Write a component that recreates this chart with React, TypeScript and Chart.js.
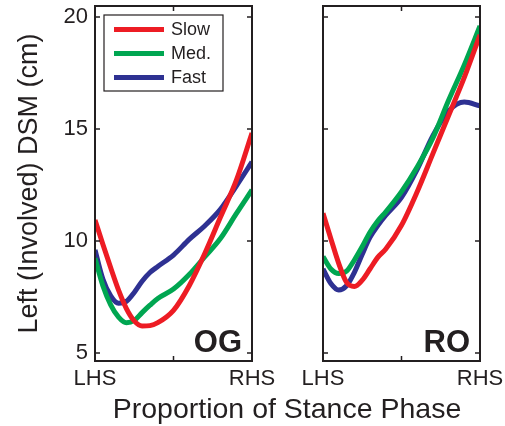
import React, { useEffect, useRef } from 'react';
import { Chart, registerables } from 'chart.js';

Chart.register(...registerables);

// ---- data ----
const phase = [0, 0.05, 0.1, 0.15, 0.2, 0.25, 0.3, 0.35, 0.4, 0.5, 0.6, 0.7, 0.8, 0.9, 1.0];

const ogSlow = [10.94, 9.85, 8.8, 7.8, 6.98, 6.43, 6.2, 6.22, 6.35, 6.9, 8.0, 9.45, 11.08, 12.7, 14.82];
const ogMed = [9.23, 8.0, 7.15, 6.6, 6.35, 6.45, 6.8, 7.13, 7.43, 7.85, 8.5, 9.3, 10.12, 11.22, 12.28];
const ogFast = [9.6, 8.3, 7.55, 7.22, 7.3, 7.7, 8.2, 8.59, 8.86, 9.37, 10.07, 10.68, 11.42, 12.45, 13.53];

const roSlow = [11.24, 10.1, 9.0, 8.15, 7.97, 8.25, 8.76, 9.28, 9.64, 10.7, 12.2, 13.9, 15.6, 17.3, 19.2];
const roMed = [9.3, 8.75, 8.55, 8.65, 9.15, 9.75, 10.4, 10.9, 11.3, 12.2, 13.3, 14.6, 16.28, 17.86, 19.6];
const roFast = [8.75, 8.1, 7.81, 8.0, 8.6, 9.41, 10.17, 10.7, 11.15, 11.95, 13.2, 14.7, 15.8, 16.2, 16.03];

const seriesLabels = ['Slow', 'Med.', 'Fast'];
const seriesColors = ['#ED1C24', '#00A651', '#2E3192'];
const panelLabels = ['OG', 'RO'];

const yTicks = [5, 10, 15, 20];
const yMin = 4.64;
const yMax = 20.49;
const xTickValues = [0, 0.5, 1];
const xTickLabels = ['LHS', '', 'RHS'];

const yTitle = 'Left (Involved) DSM (cm)';
const xTitle = 'Proportion of Stance Phase';

const FONT = "'Liberation Sans', Arial, Helvetica, sans-serif";
const TEXT = '#231F20';

function zeroPad(s: any) {
  s.paddingTop = 0;
  s.paddingBottom = 0;
  s.paddingLeft = 0;
  s.paddingRight = 0;
}

function makeFramePlugin(panelIndex: number) {
  return {
    id: 'frame' + panelIndex,
    afterDatasetsDraw(chart: any) {
      const { ctx, chartArea } = chart;
      const { left, right, top, bottom } = chartArea;
      const ys = chart.scales.y;
      const xs = chart.scales.x;
      ctx.save();
      // box
      ctx.strokeStyle = TEXT;
      ctx.lineWidth = 2;
      ctx.strokeRect(left, top, right - left, bottom - top);
      // inside ticks
      ctx.lineWidth = 1.5;
      ctx.beginPath();
      yTicks.forEach((v) => {
        const py = ys.getPixelForValue(v);
        ctx.moveTo(left, py);
        ctx.lineTo(left + 5, py);
        ctx.moveTo(right, py);
        ctx.lineTo(right - 5, py);
      });
      xTickValues.forEach((v) => {
        if (v === 0 || v === 1) return;
        const px = xs.getPixelForValue(v);
        ctx.moveTo(px, bottom);
        ctx.lineTo(px, bottom - 5);
        ctx.moveTo(px, top);
        ctx.lineTo(px, top + 5);
      });
      ctx.stroke();

      // panel label
      ctx.fillStyle = TEXT;
      ctx.font = `bold 31px ${FONT}`;
      ctx.textAlign = 'right';
      ctx.textBaseline = 'alphabetic';
      ctx.fillText(panelLabels[panelIndex], right - 10, bottom - 9);

      if (panelIndex === 0) {
        // legend
        const lx = left + 9;
        const ly = top + 9;
        ctx.fillStyle = '#FFFFFF';
        ctx.fillRect(lx, ly, 119, 76);
        ctx.strokeStyle = TEXT;
        ctx.lineWidth = 1.2;
        ctx.strokeRect(lx, ly, 119, 76);
        seriesLabels.forEach((lab, i) => {
          const yy = ly + 14.5 + i * 24;
          ctx.strokeStyle = seriesColors[i];
          ctx.lineWidth = 5;
          ctx.beginPath();
          ctx.moveTo(lx + 10, yy);
          ctx.lineTo(lx + 60, yy);
          ctx.stroke();
          ctx.fillStyle = TEXT;
          ctx.font = `18px ${FONT}`;
          ctx.textAlign = 'left';
          ctx.textBaseline = 'middle';
          ctx.fillText(lab, lx + 67, yy + 1);
        });
        // shared x title
        ctx.fillStyle = TEXT;
        ctx.font = `28.5px ${FONT}`;
        ctx.textAlign = 'center';
        ctx.textBaseline = 'alphabetic';
        ctx.fillText(xTitle, 287, 418);
      }
      ctx.restore();
    },
  };
}

function buildConfig(panelIndex: number, series: number[][]): any {
  const showY = panelIndex === 0;
  return {
    type: 'line',
    data: {
      datasets: series.map((vals, i) => ({
        label: seriesLabels[i],
        data: phase.map((p, k) => ({ x: p, y: vals[k] })),
        borderColor: seriesColors[i],
        backgroundColor: seriesColors[i],
        borderWidth: 5,
        pointRadius: 0,
        cubicInterpolationMode: 'monotone',
        fill: false,
      })),
    },
    options: {
      responsive: false,
      animation: false,
      devicePixelRatio: 1,
      layout: {
        padding: showY
          ? { left: 0, right: 253, top: 6, bottom: 0 }
          : { left: 323, right: 25, top: 6, bottom: 0 },
      },
      plugins: {
        legend: { display: false },
        tooltip: { enabled: false },
      },
      scales: {
        x: {
          type: 'linear',
          min: 0,
          max: 1,
          afterBuildTicks: (s: any) => {
            s.ticks = xTickValues.map((v) => ({ value: v }));
          },
          afterFit: (s: any) => {
            s.height = 65;
            zeroPad(s);
          },
          grid: { display: false, drawTicks: false },
          border: { display: false },
          ticks: {
            autoSkip: false,
            maxRotation: 0,
            minRotation: 0,
            padding: 5,
            color: TEXT,
            font: { family: FONT, size: 22 },
            callback: (v: number) => xTickLabels[xTickValues.indexOf(v)] ?? '',
          },
        },
        y: {
          type: 'linear',
          display: showY,
          min: yMin,
          max: yMax,
          afterBuildTicks: (s: any) => {
            s.ticks = yTicks.map((v) => ({ value: v }));
          },
          afterFit: (s: any) => {
            if (showY) s.width = 95;
            zeroPad(s);
          },
          grid: { display: false, drawTicks: false },
          border: { display: false },
          ticks: {
            padding: 7,
            color: TEXT,
            font: { family: FONT, size: 22 },
          },
          title: {
            display: showY,
            text: yTitle,
            color: TEXT,
            padding: { top: 13, bottom: 0 },
            font: { family: FONT, size: 27 },
          },
        },
      },
    },
    plugins: [makeFramePlugin(panelIndex)],
  };
}

export default function App() {
  const leftRef = useRef<HTMLCanvasElement>(null);
  const rightRef = useRef<HTMLCanvasElement>(null);

  useEffect(() => {
    const c1 = new Chart(leftRef.current as HTMLCanvasElement, buildConfig(0, [ogSlow, ogMed, ogFast]));
    const c2 = new Chart(rightRef.current as HTMLCanvasElement, buildConfig(1, [roSlow, roMed, roFast]));
    return () => {
      c1.destroy();
      c2.destroy();
    };
  }, []);

  const cs: React.CSSProperties = { position: 'absolute', left: 0, top: 0, width: 505, height: 426 };
  return (
    <div style={{ position: 'absolute', left: 0, top: 0, width: 505, height: 426, background: '#fff' }}>
      <canvas ref={leftRef} width={505} height={426} style={cs} />
      <canvas ref={rightRef} width={505} height={426} style={cs} />
    </div>
  );
}
